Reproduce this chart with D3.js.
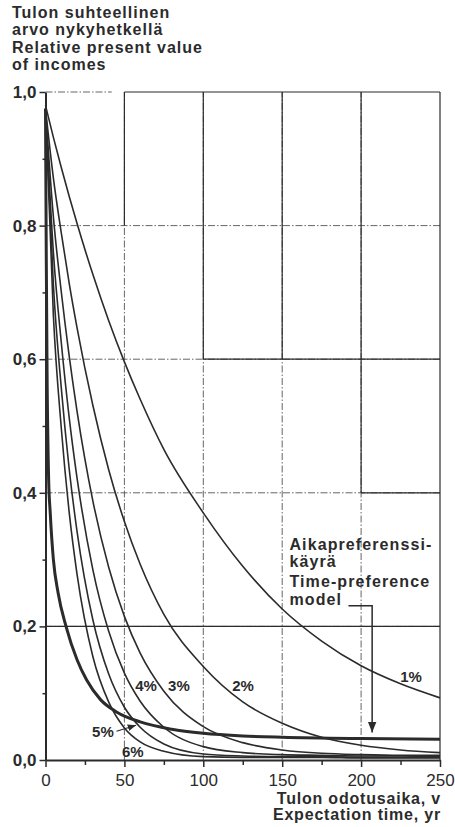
<!DOCTYPE html>
<html><head><meta charset="utf-8">
<script src="https://cdn.jsdelivr.net/npm/d3@7"></script>
<style>
html,body{margin:0;padding:0;background:#fff;}
svg{display:block;font-family:"Liberation Sans",Arial,sans-serif;}
</style></head>
<body>
<script>
// ---- data ----
const tRates = [0,5,10,15,20,30,40,50,60,75,100,125,150,175,200,225,250];
const rate1 = [0.98,0.932,0.887,0.844,0.803,0.727,0.658,0.596,0.54,0.465,0.37,0.29,0.226,0.178,0.141,0.114,0.093];
const rate2 = [0.975,0.871,0.789,0.714,0.647,0.531,0.435,0.357,0.293,0.218,0.14,0.087,0.055,0.034,0.022,0.015,0.011];
const rate3 = [0.975,0.813,0.701,0.605,0.522,0.388,0.289,0.215,0.16,0.103,0.05,0.026,0.015,0.01,0.008,0.007,0.007];
const rate4 = [0.975,0.76,0.625,0.513,0.422,0.285,0.193,0.13,0.088,0.049,0.02,0.011,0.008,0.007,0.006,0.006,0.005];
const rate5 = [0.975,0.711,0.557,0.436,0.342,0.21,0.129,0.079,0.049,0.024,0.009,0.006,0.005,0.005,0.004,0.004,0.004];
const rate6 = [0.975,0.665,0.497,0.371,0.278,0.155,0.087,0.048,0.027,0.013,0.005,0.004,0.004,0.004,0.003,0.003,0.003];
const tModel = [0,0.5,1,2,3,5,8,13,20,26,35,45,60,80,100,125,150,200,250];
const vModel = [0.975,0.75,0.58,0.42,0.37,0.30,0.25,0.20,0.15,0.12,0.09,0.072,0.057,0.046,0.04,0.036,0.034,0.032,0.031];
const rateLabels = ["1%","2%","3%","4%","5%","6%"];
const yTicks = [0,0.2,0.4,0.6,0.8,1.0];
const yTickLabels = ["0,0","0,2","0,4","0,6","0,8","1,0"];
const xTicks = [0,50,100,150,200,250];
const xTickLabels = ["0","50","100","150","200","250"];
const yTitle = ["Tulon suhteellinen","arvo nykyhetkellä","Relative present value","of incomes"];
const xTitle = ["Tulon odotusaika, v","Expectation time, yr"];
const modelTitle = ["Aikapreferenssi-","käyrä","Time-preference","model"];

// ---- drawing ----
const W = 455, H = 827;
const ink = "#2b2b2b";
const svg = d3.select("body").append("svg").attr("width", W).attr("height", H);
svg.append("rect").attr("width", W).attr("height", H).attr("fill", "#fff");

const x = d3.scaleLinear().domain([0,250]).range([45.5,440]);
const y = d3.scaleLinear().domain([0,1]).range([760,92]);

// grid: dash-dot lines, with the solid box parts of the original
const dash = "7,2,1.5,2";
const gridG = svg.append("g");
[50,100,150,200].forEach(v => gridG.append("line")
  .attr("x1", x(v)).attr("x2", x(v)).attr("y1", y(0)).attr("y2", y(1))
  .attr("stroke", "#555").attr("stroke-width", 0.9).attr("stroke-dasharray", dash));
[0.2,0.4,0.6,0.8].forEach(v => gridG.append("line")
  .attr("x1", x(0)).attr("x2", x(250)).attr("y1", y(v)).attr("y2", y(v))
  .attr("stroke", "#555").attr("stroke-width", 0.9).attr("stroke-dasharray", dash));
gridG.append("line").attr("x1", x(0)).attr("x2", x(42)).attr("y1", y(1)).attr("y2", y(1))
  .attr("stroke", "#555").attr("stroke-width", 0.9).attr("stroke-dasharray", dash);
const solid = [
  [[50,1],[250,1]], [[250,0],[250,1]], [[200,0.4],[200,1]], [[100,0.6],[100,1]],
  [[150,0.6],[150,1]], [[50,0.8],[50,1]], [[100,0.6],[250,0.6]], [[200,0.4],[250,0.4]],
  [[0,0.2],[250,0.2]]
];
solid.forEach(s => gridG.append("line")
  .attr("x1", x(s[0][0])).attr("y1", y(s[0][1])).attr("x2", x(s[1][0])).attr("y2", y(s[1][1]))
  .attr("stroke", ink).attr("stroke-width", 1.2));

// curves
const line = d3.line().x(d => x(d[0])).y(d => y(d[1])).curve(d3.curveMonotoneX);
const rates = [rate1,rate2,rate3,rate4,rate5,rate6];
const cg = svg.append("g").attr("fill", "none").attr("stroke", ink);
rates.forEach(r => cg.append("path").attr("d", line(tRates.map((t,i) => [t, r[i]])))
  .attr("stroke-width", 1.6));
cg.append("path").attr("d", line(tModel.map((t,i) => [t, vModel[i]])))
  .attr("stroke-width", 3);

// axes
const yAxis = svg.append("g").attr("transform", `translate(${x(0)},0)`)
  .call(d3.axisLeft(y).tickValues(yTicks).tickSize(6).tickSizeOuter(0)
    .tickFormat((d,i) => yTickLabels[i]));
svg.append("g").attr("transform", `translate(${x(0)},0)`)
  .call(d3.axisLeft(y).tickValues([0.1,0.3,0.5,0.7,0.9]).tickSize(3).tickSizeOuter(0).tickFormat(""))
  .select(".domain").remove();
yAxis.selectAll("text").attr("font-size", 17).attr("font-weight", "bold").attr("fill", ink).attr("x", -9);
const xAxis = svg.append("g").attr("transform", `translate(0,${y(0)})`)
  .call(d3.axisBottom(x).tickValues(xTicks).tickSize(7).tickSizeOuter(0)
    .tickFormat((d,i) => xTickLabels[i]));
svg.append("g").attr("transform", `translate(0,${y(0)})`)
  .call(d3.axisBottom(x).tickValues([25,75,125,175,225]).tickSize(5).tickSizeOuter(0).tickFormat(""))
  .select(".domain").remove();
xAxis.selectAll("text").attr("font-size", 17).attr("fill", ink).attr("dy", null).attr("y", 26);
svg.selectAll(".domain").attr("stroke", ink).attr("stroke-width", 2);
svg.selectAll(".tick line").attr("stroke", ink).attr("stroke-width", 1.5);

// titles
const tt = svg.append("g").attr("font-size", 16).attr("font-weight", "bold").attr("fill", ink)
  .attr("letter-spacing", 1);
yTitle.forEach((s,i) => tt.append("text").attr("x", 12).attr("y", 18 + i*17.4).text(s));
const xt = svg.append("g").attr("font-size", 16).attr("font-weight", "bold").attr("fill", ink)
  .attr("letter-spacing", 0.8);
xTitle.forEach((s,i) => xt.append("text").attr("x", 441).attr("y", 804 + i*15.5)
  .attr("text-anchor", "end").text(s));

// model annotation
const mt = svg.append("g").attr("font-size", 16).attr("font-weight", "bold").attr("fill", ink)
  .attr("letter-spacing", 1.1);
modelTitle.forEach((s,i) => mt.append("text").attr("x", x(154.6))
  .attr("y", [550,567,587,605][i]).text(s));
const defs = svg.append("defs");
defs.append("marker").attr("id", "ah").attr("viewBox", "0 0 10 10").attr("refX", 10).attr("refY", 5)
  .attr("markerWidth", 7).attr("markerHeight", 7).attr("orient", "auto")
  .append("path").attr("d", "M0,1 L10,5 L0,9 Z").attr("fill", ink);
svg.append("path")
  .attr("d", `M${x(192)},${y(0.231)} H${x(207)} V${y(0.041)}`)
  .attr("fill", "none").attr("stroke", ink).attr("stroke-width", 1.5).attr("marker-end", "url(#ah)");

// rate labels
const labelPos = [[224.8,0.117],[118.3,0.103],[77.7,0.103],[56.8,0.103],[29.5,0.034],[48.5,0.0045]];
const lg = svg.append("g").attr("font-size", 15).attr("font-weight", "bold").attr("fill", ink);
rateLabels.forEach((s,i) => lg.append("text").attr("x", x(labelPos[i][0])).attr("y", y(labelPos[i][1])).text(s));
svg.append("line").attr("x1", x(45)).attr("y1", y(0.043)).attr("x2", x(57.4)).attr("y2", y(0.052))
  .attr("stroke", ink).attr("stroke-width", 1.2).attr("marker-end", "url(#ah)");
</script>
</body></html>
